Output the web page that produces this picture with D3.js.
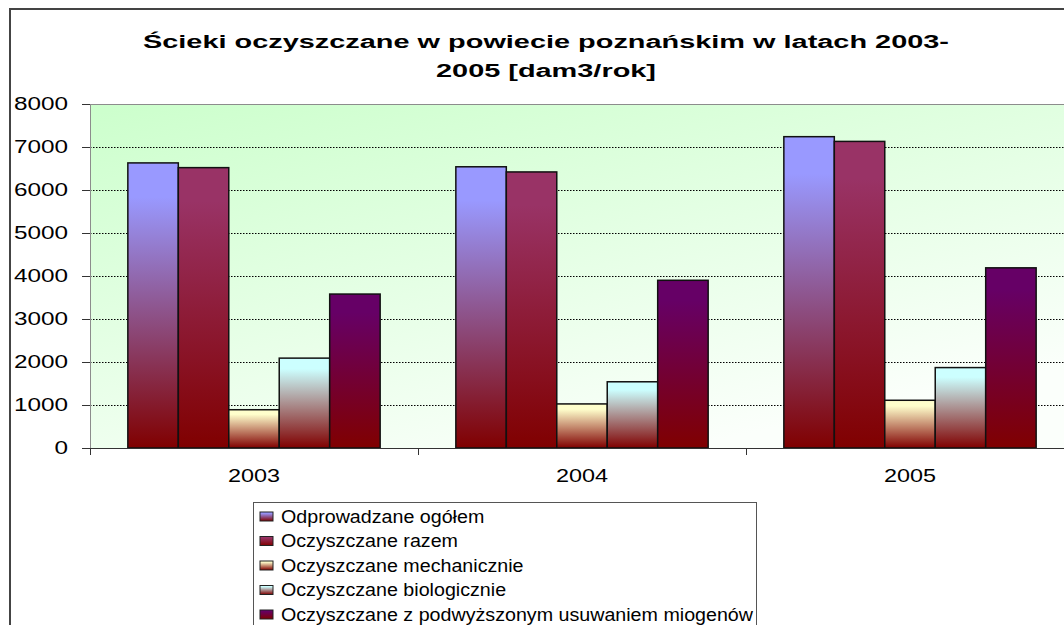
<!DOCTYPE html>
<html>
<head>
<meta charset="utf-8">
<script src="https://cdn.jsdelivr.net/npm/d3@7"></script>
<style>
  body { margin: 0; background: #fff; }
  svg { display: block; font-family: "Liberation Sans", Arial, sans-serif; }
</style>
</head>
<body>
<svg id="chart" width="1064" height="625"></svg>
<script>
// values (dam3/rok)
const years = ['2003', '2004', '2005'];
const seriesNames = [
    'Odprowadzane ogółem',
    'Oczyszczane razem',
    'Oczyszczane mechanicznie',
    'Oczyszczane biologicznie',
    'Oczyszczane z podwyższonym usuwaniem miogenów'
];
const odprowadzane = [6630, 6540, 7240];
const razem = [6520, 6420, 7130];
const mechanicznie = [890, 1025, 1110];
const biologicznie = [2090, 1540, 1870];
const miogenow = [3580, 3900, 4190];
const yTicks = [0, 1000, 2000, 3000, 4000, 5000, 6000, 7000, 8000];
const titleLines = ['Ścieki oczyszczane w powiecie poznańskim w latach 2003-', '2005 [dam3/rok]'];

const seriesValues = [odprowadzane, razem, mechanicznie, biologicznie, miogenow];
// top colour of each bar gradient, all of them fade to dark red at the bottom
const topColors = ['#9999ff', '#993366', '#ffffcc', '#ccffff', '#660066'];

const svg = d3.select('#chart');
const plot = { left: 90, right: 1074, top: 104, bottom: 448 };

// stretch a text horizontally, the original picture is wider than the fonts
function stretch(sel, k) {
    sel.each(function() {
        const w = this.getComputedTextLength();
        d3.select(this).attr('textLength', w * k).attr('lengthAdjust', 'spacingAndGlyphs');
    });
}

const defs = svg.append('defs');
const bg = defs.append('linearGradient').attr('id', 'plotBg')
    .attr('x1', 0).attr('y1', 0).attr('x2', 0.6).attr('y2', 1);
bg.append('stop').attr('offset', 0).attr('stop-color', '#ccffcc');
bg.append('stop').attr('offset', 1).attr('stop-color', '#fbfffb');

topColors.forEach((c, i) => {
    const g = defs.append('linearGradient').attr('id', 'bar' + i)
        .attr('x1', 0).attr('y1', 0).attr('x2', 0).attr('y2', 1);
    g.append('stop').attr('offset', 0).attr('stop-color', c);
    g.append('stop').attr('offset', 0.12).attr('stop-color', c);
    g.append('stop').attr('offset', 1).attr('stop-color', '#800000');
});

const x = d3.scaleBand().domain(years).range([plot.left, plot.right]);
const xs = d3.scaleBand().domain(d3.range(seriesNames.length))
    .range([0, x.bandwidth()]).paddingOuter(0.75);
const y = d3.scaleLinear().domain([0, 8000]).range([plot.bottom, plot.top]);

// plot area
svg.append('rect')
    .attr('x', plot.left).attr('y', plot.top)
    .attr('width', plot.right - plot.left).attr('height', plot.bottom - plot.top)
    .attr('fill', 'url(#plotBg)');

// grid lines
svg.append('g').selectAll('line')
    .data(yTicks.filter(t => t > 0 && t < 8000))
    .join('line')
    .attr('x1', plot.left).attr('x2', plot.right)
    .attr('y1', d => y(d) + 0.5).attr('y2', d => y(d) + 0.5)
    .attr('stroke', '#000').attr('stroke-dasharray', '1.5,1.5');

svg.append('line')
    .attr('x1', plot.left).attr('x2', plot.right)
    .attr('y1', plot.top + 0.5).attr('y2', plot.top + 0.5)
    .attr('stroke', '#8c8c8c');

// bars
const groups = svg.append('g').selectAll('g')
    .data(years)
    .join('g')
    .attr('transform', d => `translate(${x(d)},0)`);

groups.selectAll('rect')
    .data((yr, yi) => seriesValues.map((vals, si) => ({ si: si, v: vals[yi] })))
    .join('rect')
    .attr('x', d => xs(d.si))
    .attr('y', d => y(d.v))
    .attr('width', xs.bandwidth())
    .attr('height', d => plot.bottom - y(d.v))
    .attr('fill', d => `url(#bar${d.si})`)
    .attr('stroke', '#111')
    .attr('stroke-width', 1.5);

// y axis
const yAxis = svg.append('g')
    .attr('transform', `translate(${plot.left},0)`)
    .call(d3.axisLeft(y).tickValues(yTicks).tickSize(8).tickPadding(14).tickFormat(d3.format('d')));
yAxis.select('.domain').attr('stroke', '#8c8c8c');
yAxis.selectAll('.tick line').attr('stroke', '#333');
yAxis.selectAll('text')
    .attr('font-size', 18)
    .attr('fill', '#000')
    .attr('font-family', '"Liberation Sans", Arial, sans-serif');
stretch(yAxis.selectAll('text'), 1.35);

// x axis
svg.append('line')
    .attr('x1', plot.left).attr('x2', plot.right)
    .attr('y1', plot.bottom + 0.5).attr('y2', plot.bottom + 0.5)
    .attr('stroke', '#333');
svg.append('g').selectAll('line')
    .data(years.map(d => x(d)).concat([plot.right]))
    .join('line')
    .attr('x1', d => d + 0.5).attr('x2', d => d + 0.5)
    .attr('y1', plot.bottom).attr('y2', plot.bottom + 7)
    .attr('stroke', '#333');
const xLabels = svg.append('g').selectAll('text')
    .data(years)
    .join('text')
    .attr('x', d => x(d) + x.bandwidth() / 2)
    .attr('y', 482)
    .attr('text-anchor', 'middle')
    .attr('font-size', 18)
    .text(d => d);
stretch(xLabels, 1.3);

// title
const title = svg.append('g').selectAll('text')
    .data(titleLines)
    .join('text')
    .attr('x', 546)
    .attr('y', (d, i) => 48 + i * 29)
    .attr('text-anchor', 'middle')
    .attr('font-size', 18)
    .attr('font-weight', 'bold')
    .text(d => d);
const titleK = 806 / title.node().getComputedTextLength();
stretch(title, titleK);

// legend
const legend = svg.append('g');
legend.append('rect')
    .attr('x', 253.5).attr('y', 502.5)
    .attr('width', 503).attr('height', 160)
    .attr('fill', '#fff').attr('stroke', '#555');
const rows = legend.selectAll('g.row')
    .data(seriesNames)
    .join('g')
    .attr('class', 'row')
    .attr('transform', (d, i) => `translate(0,${516.5 + i * 24.5})`);
rows.append('rect')
    .attr('x', 260).attr('y', -4.5)
    .attr('width', 13).attr('height', 9)
    .attr('fill', (d, i) => `url(#bar${i})`)
    .attr('stroke', '#222');
const legendText = rows.append('text')
    .attr('x', 281).attr('y', 6)
    .attr('font-size', 17.5)
    .text(d => d);
const longest = d3.max(legendText.nodes(), n => n.getComputedTextLength());
stretch(legendText, 472 / longest);

// chart frame (cut off at right and bottom in the original)
svg.append('path')
    .attr('d', 'M10,626 V9 H1066')
    .attr('fill', 'none')
    .attr('stroke', '#444')
    .attr('stroke-width', 2);
</script>
</body>
</html>
